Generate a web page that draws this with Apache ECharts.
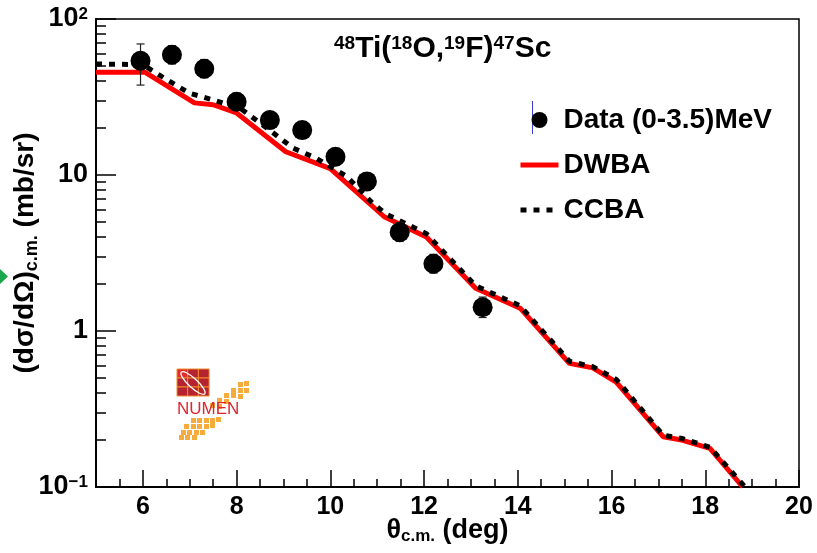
<!DOCTYPE html>
<html>
<head>
<meta charset="utf-8">
<title>48Ti(18O,19F)47Sc</title>
<script src="https://cdn.jsdelivr.net/npm/echarts@6.0.0/dist/echarts.min.js"></script>
<style>
  html, body { margin: 0; padding: 0; background: #fff; }
  #chart { width: 817px; height: 553px; }
</style>
</head>
<body>
<div id="chart"></div>
<script>
// experimental points, 0-3.5 MeV
const thetaData = [5.95, 6.62, 7.31, 8.0, 8.71, 9.40, 10.11, 10.78, 11.48, 12.20, 13.25];
const sigmaData = [54, 59, 48, 29.5, 22.5, 19.4, 13.1, 9.1, 4.3, 2.7, 1.42];
const errLow    = [37.7, 51.5, 42, 26, 19.8, 17.1, 11.6, 8.0, 3.75, 2.35, 1.22];
const errHigh   = [69.2, 67.5, 55, 33.5, 25.5, 22, 14.8, 10.3, 4.95, 3.1, 1.65];

// DWBA curve
const thetaDwba = [5.0, 6.05, 7.1, 7.5, 8.0, 9.05, 10.0, 11.15, 12.05, 13.1, 14.05, 15.1, 15.6, 16.1, 17.1, 17.5, 18.1, 18.8];
const sigmaDwba = [45.5, 45.5, 29, 28.2, 25, 14.1, 11.0, 5.4, 4.0, 1.88, 1.40, 0.62, 0.58, 0.47, 0.21, 0.20, 0.177, 0.1];

// CCBA curve
const thetaCcba = [5.0, 6.0, 6.5, 7.0, 7.5, 8.1, 8.9, 9.2, 9.7, 10.35, 10.9, 11.2, 12.05, 13.1, 14.05, 15.1, 15.6, 16.1, 17.1, 17.5, 18.1, 18.85];
const sigmaCcba = [51.5, 51, 41, 33.4, 30.3, 26.5, 17.5, 14.9, 12.8, 9.8, 6.6, 5.6, 4.2, 1.95, 1.45, 0.64, 0.59, 0.49, 0.215, 0.205, 0.18, 0.1];

// axis ticks
const xLabels = [6, 8, 10, 12, 14, 16, 18, 20];
const yMajor = [0.1, 1, 10, 100];
const yMinor = [0.2, 0.3, 0.4, 0.5, 0.6, 0.7, 0.8, 0.9, 2, 3, 4, 5, 6, 7, 8, 9, 20, 30, 40, 50, 60, 70, 80, 90];

const font = 'Liberation Sans, Arial, sans-serif';
const myChart = echarts.init(document.getElementById('chart'));

const pairs = (xs, ys) => xs.map((x, i) => [x, ys[i]]);

// logo squares (decoration)
const orange = [
  [238, 382], [244, 381], [231, 388], [238, 388], [244, 388], [224, 393], [231, 393], [238, 394],
  [217, 398], [224, 399], [210, 403], [217, 404],
  [191, 418], [197, 418], [204, 418], [210, 418], [216, 417],
  [184, 424], [191, 424], [197, 424], [204, 424], [210, 423],
  [181, 430], [187, 430], [194, 430], [200, 430],
  [179, 435], [185, 435], [192, 435]
];
const logo = [];
for (let r = 0; r < 3; r++) {
  for (let c = 0; c < 3; c++) {
    logo.push({
      type: 'rect',
      shape: { x: 177 + c * 10.7, y: 369 + r * 9, width: 10.7, height: 9 },
      style: { fill: (r === 0 && c === 0) ? '#e52a2a' : '#b52230', stroke: '#f08a2a', lineWidth: 1 }
    });
  }
}
logo.push({
  type: 'ellipse',
  shape: { cx: 0, cy: 0, rx: 16, ry: 4.5 },
  x: 193, y: 383, rotation: -0.75,
  style: { fill: 'none', stroke: '#fff', lineWidth: 1.3 }
});
orange.forEach(p => logo.push({
  type: 'rect', shape: { x: p[0], y: p[1], width: 5, height: 5 }, style: { fill: '#f6ac3c' }
}));
logo.push({
  type: 'text', x: 177, y: 401,
  style: { text: 'NUMEN', fill: '#e0252d', font: '17px ' + font, textAlign: 'left', textVerticalAlign: 'top' }
});

const option = {
  animation: false,
  backgroundColor: '#fff',
  title: {
    text: '{sup|48}{m|Ti(}{sup|18}{m|O,}{sup|19}{m|F)}{sup|47}{m|Sc}',
    left: 329, top: 29,
    textStyle: {
      rich: {
        m: { fontFamily: font, fontWeight: 'bold', fontSize: 30, color: '#000' },
        sup: { fontFamily: font, fontWeight: 'bold', fontSize: 19, color: '#000', verticalAlign: 'top' }
      }
    }
  },
  legend: {
    orient: 'vertical',
    left: 513, top: 101,
    itemWidth: 38, itemHeight: 16,
    itemGap: 17,
    itemTextGap: 12,
    textStyle: { fontFamily: font, fontWeight: 'bold', fontSize: 28, color: '#000' },
    data: [
      { name: 'Data (0-3.5)MeV', icon: 'circle', itemStyle: { color: '#000', opacity: 1 } },
      { name: 'DWBA', itemStyle: { opacity: 0 }, lineStyle: { color: '#ff0000', width: 5 } },
      { name: 'CCBA', itemStyle: { opacity: 0 }, lineStyle: { color: '#000', width: 5, type: [6, 7] } }
    ]
  },
  grid: {
    left: 96, right: 18, top: 19, bottom: 66,
    outerBoundsMode: 'none',
    containLabel: false,
    show: true, borderColor: '#000', borderWidth: 1.5
  },
  xAxis: [
    {
      type: 'value', min: 5, max: 20, interval: 0.5,
      name: '{m|θ}{sub|c.m.}{m| (deg)}',
      nameLocation: 'middle', nameGap: 29, nameMoveOverlap: false,
      nameTextStyle: {
        rich: {
          m: { fontFamily: font, fontWeight: 'bold', fontSize: 27, color: '#000' },
          sub: { fontFamily: font, fontWeight: 'bold', fontSize: 17, color: '#000', verticalAlign: 'bottom', padding: [12, 0, 0, 0] }
        }
      },
      axisLine: { lineStyle: { color: '#000', width: 2 } },
      axisTick: { inside: true, length: 8, lineStyle: { color: '#000', width: 1.5 } },
      axisLabel: {
        customValues: xLabels,
        margin: 8,
        fontFamily: font, fontWeight: 'bold', fontSize: 25, color: '#000'
      },
      splitLine: { show: false }
    },
    {
      type: 'value', min: 5, max: 20, position: 'bottom',
      axisLine: { show: false },
      axisTick: { inside: true, length: 17, customValues: xLabels, lineStyle: { color: '#000', width: 1.5 } },
      axisLabel: { show: false },
      splitLine: { show: false }
    }
  ],
  yAxis: [
    {
      type: 'log', logBase: 10, min: 0.1, max: 100,
      name: '{m|(dσ/dΩ)}{sub|c.m.}{m| (mb/sr)}',
      nameLocation: 'middle', nameGap: 55, nameRotate: 90, nameMoveOverlap: false,
      nameTextStyle: {
        rich: {
          m: { fontFamily: font, fontWeight: 'bold', fontSize: 28, color: '#000' },
          sub: { fontFamily: font, fontWeight: 'bold', fontSize: 18, color: '#000', verticalAlign: 'bottom', padding: [14, 0, 0, 0] }
        }
      },
      axisLine: { show: true, lineStyle: { color: '#000', width: 2 } },
      axisTick: { inside: true, length: 20, customValues: yMajor, lineStyle: { color: '#000', width: 1.5 } },
      axisLabel: {
        customValues: yMajor,
        margin: 8,
        formatter: v => {
          if (v >= 99) return '{m|10}{sup|2}';
          if (v >= 9) return '{m|10}';
          if (v >= 0.9) return '{m|1}';
          return '{m|10}{sup|−1}';
        },
        rich: {
          m: { fontFamily: font, fontWeight: 'bold', fontSize: 27, color: '#000' },
          sup: { fontFamily: font, fontWeight: 'bold', fontSize: 17, color: '#000', verticalAlign: 'top', padding: [0, 0, 10, 0] }
        }
      },
      splitLine: { show: false }
    },
    {
      type: 'log', logBase: 10, min: 0.1, max: 100, position: 'left',
      axisLine: { show: false },
      axisTick: { inside: true, length: 10, customValues: yMinor, lineStyle: { color: '#000', width: 1.5 } },
      axisLabel: { show: false },
      splitLine: { show: false }
    }
  ],
  graphic: [
    {
      type: 'polygon',
      shape: { points: [[-1, 268], [8, 276.5], [-1, 285], [-10, 276.5]] },
      style: { fill: '#1aa64a' }
    },
    {
      type: 'line',
      shape: { x1: 532.5, y1: 101, x2: 532.5, y2: 134 },
      style: { stroke: '#3a3ad0', lineWidth: 1 },
      z: 0
    },
    { type: 'group', children: logo }
  ],
  series: [
    {
      name: 'DWBA',
      type: 'line',
      data: pairs(thetaDwba, sigmaDwba),
      showSymbol: false, symbol: 'none',
      color: '#ff0000',
      lineStyle: { color: '#ff0000', width: 5 },
      z: 2
    },
    {
      name: 'CCBA',
      type: 'line',
      data: pairs(thetaCcba, sigmaCcba),
      showSymbol: false, symbol: 'none',
      color: '#000',
      lineStyle: { color: '#000', width: 5, type: [6, 7] },
      z: 3
    },
    {
      name: 'errors',
      type: 'custom',
      data: thetaData.map((t, i) => [t, errLow[i], errHigh[i]]),
      encode: { x: 0, y: [1, 2] },
      renderItem: (params, api) => {
        const lo = api.coord([api.value(0), api.value(1)]);
        const hi = api.coord([api.value(0), api.value(2)]);
        const st = { stroke: '#222', lineWidth: 1.2 };
        return {
          type: 'group',
          children: [
            { type: 'line', shape: { x1: lo[0], y1: lo[1], x2: hi[0], y2: hi[1] }, style: st },
            { type: 'line', shape: { x1: lo[0] - 4, y1: lo[1], x2: lo[0] + 4, y2: lo[1] }, style: st },
            { type: 'line', shape: { x1: hi[0] - 4, y1: hi[1], x2: hi[0] + 4, y2: hi[1] }, style: st }
          ]
        };
      },
      z: 4
    },
    {
      name: 'Data (0-3.5)MeV',
      type: 'scatter',
      data: pairs(thetaData, sigmaData),
      symbol: 'circle', symbolSize: 20,
      color: '#000',
      itemStyle: { color: '#000', opacity: 1 },
      z: 5
    }
  ]
};
option && myChart.setOption(option);
</script>
</body>
</html>
